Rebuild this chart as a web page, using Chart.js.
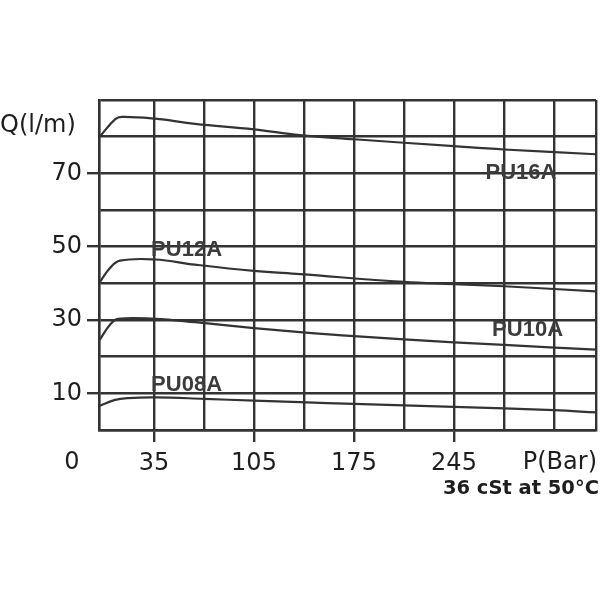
<!DOCTYPE html>
<html>
<head>
<meta charset="utf-8">
<script src="https://cdn.jsdelivr.net/npm/chart.js@4"></script>
<style>
  body { margin: 0; background: #fff; }
  #wrap { width: 600px; height: 600px; }
</style>
</head>
<body>
<div id="wrap"><canvas id="pumpChart" width="600" height="600"></canvas></div>
<script>
// grid / tick values
var pressureTicks = [35, 70, 105, 140, 175, 210, 245, 280, 315];
var pressureLabels = [35, 105, 175, 245];
var flowTicks = [0, 10, 20, 30, 40, 50, 60, 70, 80, 90];
var flowLabels = [10, 30, 50, 70];
var pressureMin = -3.5, pressureMax = 344.4;

// curves (pressure bar, flow l/min)
var pu16aP = [-3, 7.7, 12.4, 35.7, 63.7, 105, 137.2, 175, 245, 280, 344.4];
var pu16aQ = [80.0, 84.7, 85.4, 84.9, 83.5, 82.0, 80.4, 79.3, 77.4, 76.5, 75.2];
var pu12aP = [-3, 4.2, 11.2, 35.7, 63.7, 105, 137.2, 210, 245, 280, 344.4];
var pu12aQ = [40.3, 44.2, 46.2, 46.5, 45.1, 43.4, 42.5, 40.4, 39.8, 39.2, 37.8];
var pu10aP = [-3, 4.2, 9.8, 35.7, 63.7, 105, 137.2, 175, 245, 280, 344.4];
var pu10aQ = [24.6, 28.7, 30.3, 30.3, 29.4, 27.8, 26.7, 25.6, 23.9, 23.2, 21.9];
var pu08aP = [-3, 7.7, 16.8, 35.7, 70, 105, 137.2, 175, 245, 315, 344.4];
var pu08aQ = [6.6, 8.2, 8.7, 8.9, 8.5, 8.0, 7.6, 7.1, 6.3, 5.4, 4.8];

// curve names and where they sit on the chart
var seriesNames = ['PU16A', 'PU12A', 'PU10A', 'PU08A'];
var nameP = [291.9, 57.8, 296.5, 57.8];
var nameQ = [70.0, 49.2, 27.3, 12.3];

var ink = '#333';

function pts(xs, ys) {
    return xs.map(function (x, i) { return { x: x, y: ys[i] }; });
}

function curve(name, xs, ys) {
    return {
        label: name,
        data: pts(xs, ys),
        borderColor: ink,
        borderWidth: 2.2,
        pointRadius: 0,
        fill: false,
        tension: 0.4
    };
}

var textPlugin = {
    id: 'chartText',
    afterDraw: function (chart) {
        var ctx = chart.ctx;
        var xs = chart.scales.x, ys = chart.scales.y;
        ctx.save();
        ctx.fillStyle = '#1e1e1e';
        ctx.font = '24px "DejaVu Sans"';
        ctx.textBaseline = 'middle';
        ctx.textAlign = 'left';
        ctx.fillText('Q(l/m)', 0, 126);
        ctx.textAlign = 'center';
        ctx.fillText('0', 72, 463);
        ctx.textAlign = 'right';
        ctx.fillText('P(Bar)', 597, 463);
        ctx.font = 'bold 19.5px "DejaVu Sans"';
        ctx.fillText('36 cSt at 50\u00B0C', 599, 489);

        ctx.fillStyle = '#3c3c3c';
        ctx.font = 'bold 22px "Liberation Sans"';
        ctx.textAlign = 'center';
        seriesNames.forEach(function (n, i) {
            ctx.fillText(n, xs.getPixelForValue(nameP[i]), ys.getPixelForValue(nameQ[i]));
        });
        ctx.restore();
    }
};

var canvas = document.getElementById('pumpChart');
var myChart = new Chart(canvas, {
    type: 'line',
    data: {
        datasets: [
            curve('PU16A', pu16aP, pu16aQ),
            curve('PU12A', pu12aP, pu12aQ),
            curve('PU10A', pu10aP, pu10aQ),
            curve('PU08A', pu08aP, pu08aQ)
        ]
    },
    options: {
        responsive: false,
        animation: false,
        layout: { padding: { left: 0, top: 100, right: 4, bottom: 0 } },
        plugins: {
            legend: { display: false },
            tooltip: { enabled: false }
        },
        scales: {
            x: {
                type: 'linear',
                min: pressureMin,
                max: pressureMax,
                afterBuildTicks: function (scale) {
                    scale.ticks = [pressureMin].concat(pressureTicks, [pressureMax]).map(function (v) { return { value: v }; });
                },
                afterFit: function (scale) {
                    scale.height = 170;
                    scale.paddingLeft = 0;
                    scale.paddingRight = 0;
                },
                border: { display: true, color: ink, width: 2.4 },
                grid: {
                    color: ink,
                    lineWidth: 2.4,
                    tickLength: 12,
                    tickColor: function (c) {
                        return c.tick && pressureLabels.indexOf(c.tick.value) >= 0 ? ink : 'rgba(0,0,0,0)';
                    }
                },
                ticks: {
                    autoSkip: false,
                    maxRotation: 0,
                    padding: 7,
                    color: '#1e1e1e',
                    font: { family: 'DejaVu Sans', size: 24 },
                    callback: function (v) { return pressureLabels.indexOf(v) >= 0 ? String(v) : ''; }
                }
            },
            y: {
                min: 0,
                max: 90,
                afterBuildTicks: function (scale) {
                    scale.ticks = flowTicks.map(function (v) { return { value: v }; });
                },
                afterFit: function (scale) { scale.width = 99; },
                border: { display: true, color: ink, width: 2.4 },
                grid: {
                    color: ink,
                    lineWidth: 2.4,
                    tickLength: 12,
                    tickColor: function (c) {
                        return c.tick && flowLabels.indexOf(c.tick.value) >= 0 ? ink : 'rgba(0,0,0,0)';
                    }
                },
                ticks: {
                    autoSkip: false,
                    padding: 5,
                    color: '#1e1e1e',
                    font: { family: 'DejaVu Sans', size: 24 },
                    callback: function (v) { return flowLabels.indexOf(v) >= 0 ? String(v) : ''; }
                }
            }
        }
    },
    plugins: [textPlugin]
});
</script>
</body>
</html>
